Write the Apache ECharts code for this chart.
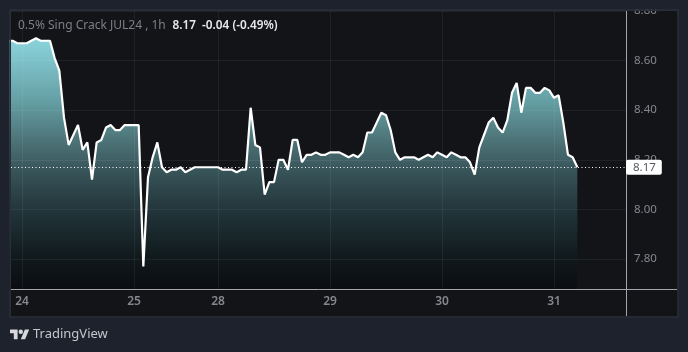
<!DOCTYPE html>
<html>
<head>
<meta charset="utf-8">
<style>html,body{margin:0;padding:0;background:#1e222d}#chart{width:688px;height:352px}</style>
<script src="https://cdn.jsdelivr.net/npm/echarts@6/dist/echarts.min.js"></script>
</head>
<body>
<div id="chart"></div>
<script>
// hourly closes, one entry per bar
let prices = [
  8.68,8.68,8.67,8.67,8.67,8.68,8.69,8.68,8.68,8.68,
  8.61,8.56,8.37,8.26,8.30,8.34,8.24,8.27,8.12,8.27,
  8.28,8.33,8.34,8.32,8.32,8.34,8.34,8.34,8.34,7.77,
  8.13,8.21,8.27,8.17,8.15,8.16,8.16,8.17,8.15,8.16,
  8.17,8.17,8.17,8.17,8.17,8.17,8.16,8.16,8.16,8.15,
  8.16,8.16,8.41,8.26,8.25,8.06,8.11,8.11,8.20,8.20,
  8.16,8.28,8.28,8.19,8.22,8.22,8.23,8.22,8.22,8.23,
  8.23,8.23,8.22,8.21,8.22,8.21,8.23,8.31,8.31,8.35,
  8.39,8.38,8.32,8.23,8.20,8.21,8.21,8.21,8.20,8.21,
  8.22,8.21,8.23,8.22,8.21,8.23,8.22,8.21,8.21,8.19,
  8.14,8.25,8.30,8.35,8.37,8.33,8.31,8.36,8.47,8.51,
  8.39,8.49,8.49,8.47,8.47,8.49,8.48,8.45,8.46,8.35,
  8.22,8.21,8.17
]
let dayTicks = [3, 27, 45, 69, 93, 117]
let dayLabels = ['24', '25', '28', '29', '30', '31']
let priceTicks = [7.8, 8.0, 8.2, 8.4, 8.6, 8.8]
let lastPrice = 8.17
let symbolText = '0.5% Sing Crack JUL24 , 1h'
let changeText = '8.17  -0.04 (-0.49%)'

let font = '"Noto Sans", sans-serif'
let gridColor = 'rgba(255,255,255,0.06)'
let axisColor = '#a3a6ab'
let logoColor = '#d6d8dc'

let myChart = echarts.init(document.getElementById('chart'))
let option = {
  animation: false,
  backgroundColor: '#1e222d',
  textStyle: { fontFamily: font },
  title: {
    left: 18, top: 17,
    padding: 0,
    text: '{a|' + symbolText + '} {b|' + changeText + '}',
    textStyle: {
      fontWeight: 'normal',
      rich: {
        a: { color: '#7c7f85', fontSize: 12, fontWeight: 'normal', fontFamily: font, padding: [0, 2, 0, 0] },
        b: { color: '#e8e9eb', fontSize: 11.8, fontWeight: 600, fontFamily: font }
      }
    }
  },
  grid: { left: 11, right: 62, top: 11, bottom: 63 },
  xAxis: {
    type: 'value',
    min: 0.643, max: 132.43,
    z: 3,
    axisLine: { show: true, onZero: false, lineStyle: { color: axisColor, width: 1 } },
    axisTick: { show: false, customValues: dayTicks },
    splitLine: { show: true, lineStyle: { color: gridColor, width: 1 } },
    axisLabel: {
      customValues: dayTicks,
      color: '#85878c', fontSize: 12, fontWeight: 600, margin: 7, fontFamily: font,
      formatter: v => dayLabels[dayTicks.indexOf(v)]
    }
  },
  yAxis: {
    type: 'value',
    position: 'right',
    min: 7.679, max: 8.8,
    z: 3,
    axisLine: { show: true, lineStyle: { color: axisColor, width: 1 } },
    axisTick: { show: false, customValues: priceTicks },
    splitLine: { show: true, lineStyle: { color: gridColor, width: 1 } },
    axisLabel: {
      customValues: priceTicks,
      color: '#85878c', fontSize: 11.5, margin: 8, fontFamily: font,
      formatter: v => v.toFixed(2)
    }
  },
  series: [{
    type: 'line',
    data: prices.map((p, i) => [i, p]),
    showSymbol: false,
    z: 2,
    lineStyle: { color: '#ffffff', width: 2.2 },
    areaStyle: {
      origin: 'start',
      // global gradient, stops
      color: {
        type: 'linear', x: 0, y: 40, x2: 0, y2: 289, global: true,
        colorStops: [
          { offset: 0, color: '#8ad3db' },
          { offset: 0.241, color: '#65a0a5' },
          { offset: 0.402, color: '#4d7478' },
          { offset: 0.522, color: '#38555a' },
          { offset: 0.683, color: '#22353a' },
          { offset: 0.876, color: '#10191c' },
          { offset: 1, color: '#0b0c10' }
        ]
      },
      opacity: 1
    },
    markLine: {
      silent: true,
      symbol: 'none',
      z: 6,
      data: [{ yAxis: lastPrice }],
      lineStyle: { color: '#ffffff', width: 1, type: [1, 2.5] },
      label: {
        position: 'end', distance: 0,
        formatter: lastPrice.toFixed(2),
        color: '#555860', fontSize: 11.5, fontFamily: font,
        backgroundColor: '#ffffff', borderRadius: 2,
        padding: [2, 6, 1, 7]
      }
    }
  }],
  graphic: [
    // panel behind the plot
    { type: 'rect', z: -1, shape: { x: 10, y: 10, width: 668, height: 307 },
      style: { fill: '#131418', stroke: '#2a2e39', lineWidth: 1.5 } },
    // cuts off the top price label and the line's overhang at the panel edge
    { type: 'rect', z: 50, shape: { x: 0, y: 0, width: 688, height: 9.5 }, style: { fill: '#1e222d' } },
    { type: 'rect', z: 50, shape: { x: 0, y: 0, width: 9.5, height: 318 }, style: { fill: '#1e222d' } },
    { type: 'rect', z: 50, shape: { x: 9.5, y: 9.5, width: 669, height: 1.5 }, style: { fill: '#2a2e39' } },
    { type: 'rect', z: 50, shape: { x: 9.5, y: 9.5, width: 1.5, height: 308 }, style: { fill: '#2a2e39' } },
    // axis lines run on past the plot
    { type: 'line', z: 4, shape: { x1: 626, y1: 289.5, x2: 677, y2: 289.5 }, style: { stroke: axisColor, lineWidth: 1 } },
    { type: 'line', z: 4, shape: { x1: 626.5, y1: 289, x2: 626.5, y2: 316 }, style: { stroke: axisColor, lineWidth: 1 } },
    // footer logo and name
    { type: 'polygon', z: 5, shape: { points: [[10, 329.5], [17.6, 329.5], [17.6, 339.2], [13.8, 339.2], [13.8, 333.3], [10, 333.3]] }, style: { fill: logoColor } },
    { type: 'polygon', z: 5, shape: { points: [[25.1, 339.2], [20.8, 339.2], [24.9, 329.5], [29.2, 329.5]] }, style: { fill: logoColor } },
    { type: 'circle', z: 5, shape: { cx: 20.8, cy: 331.7, r: 2.2 }, style: { fill: logoColor } },
    { type: 'text', z: 5, x: 33, y: 334, style: { text: 'TradingView', fill: '#c4c6cb', font: '13px ' + font, verticalAlign: 'middle' } }
  ]
}
myChart.setOption(option)
</script>
</body>
</html>
